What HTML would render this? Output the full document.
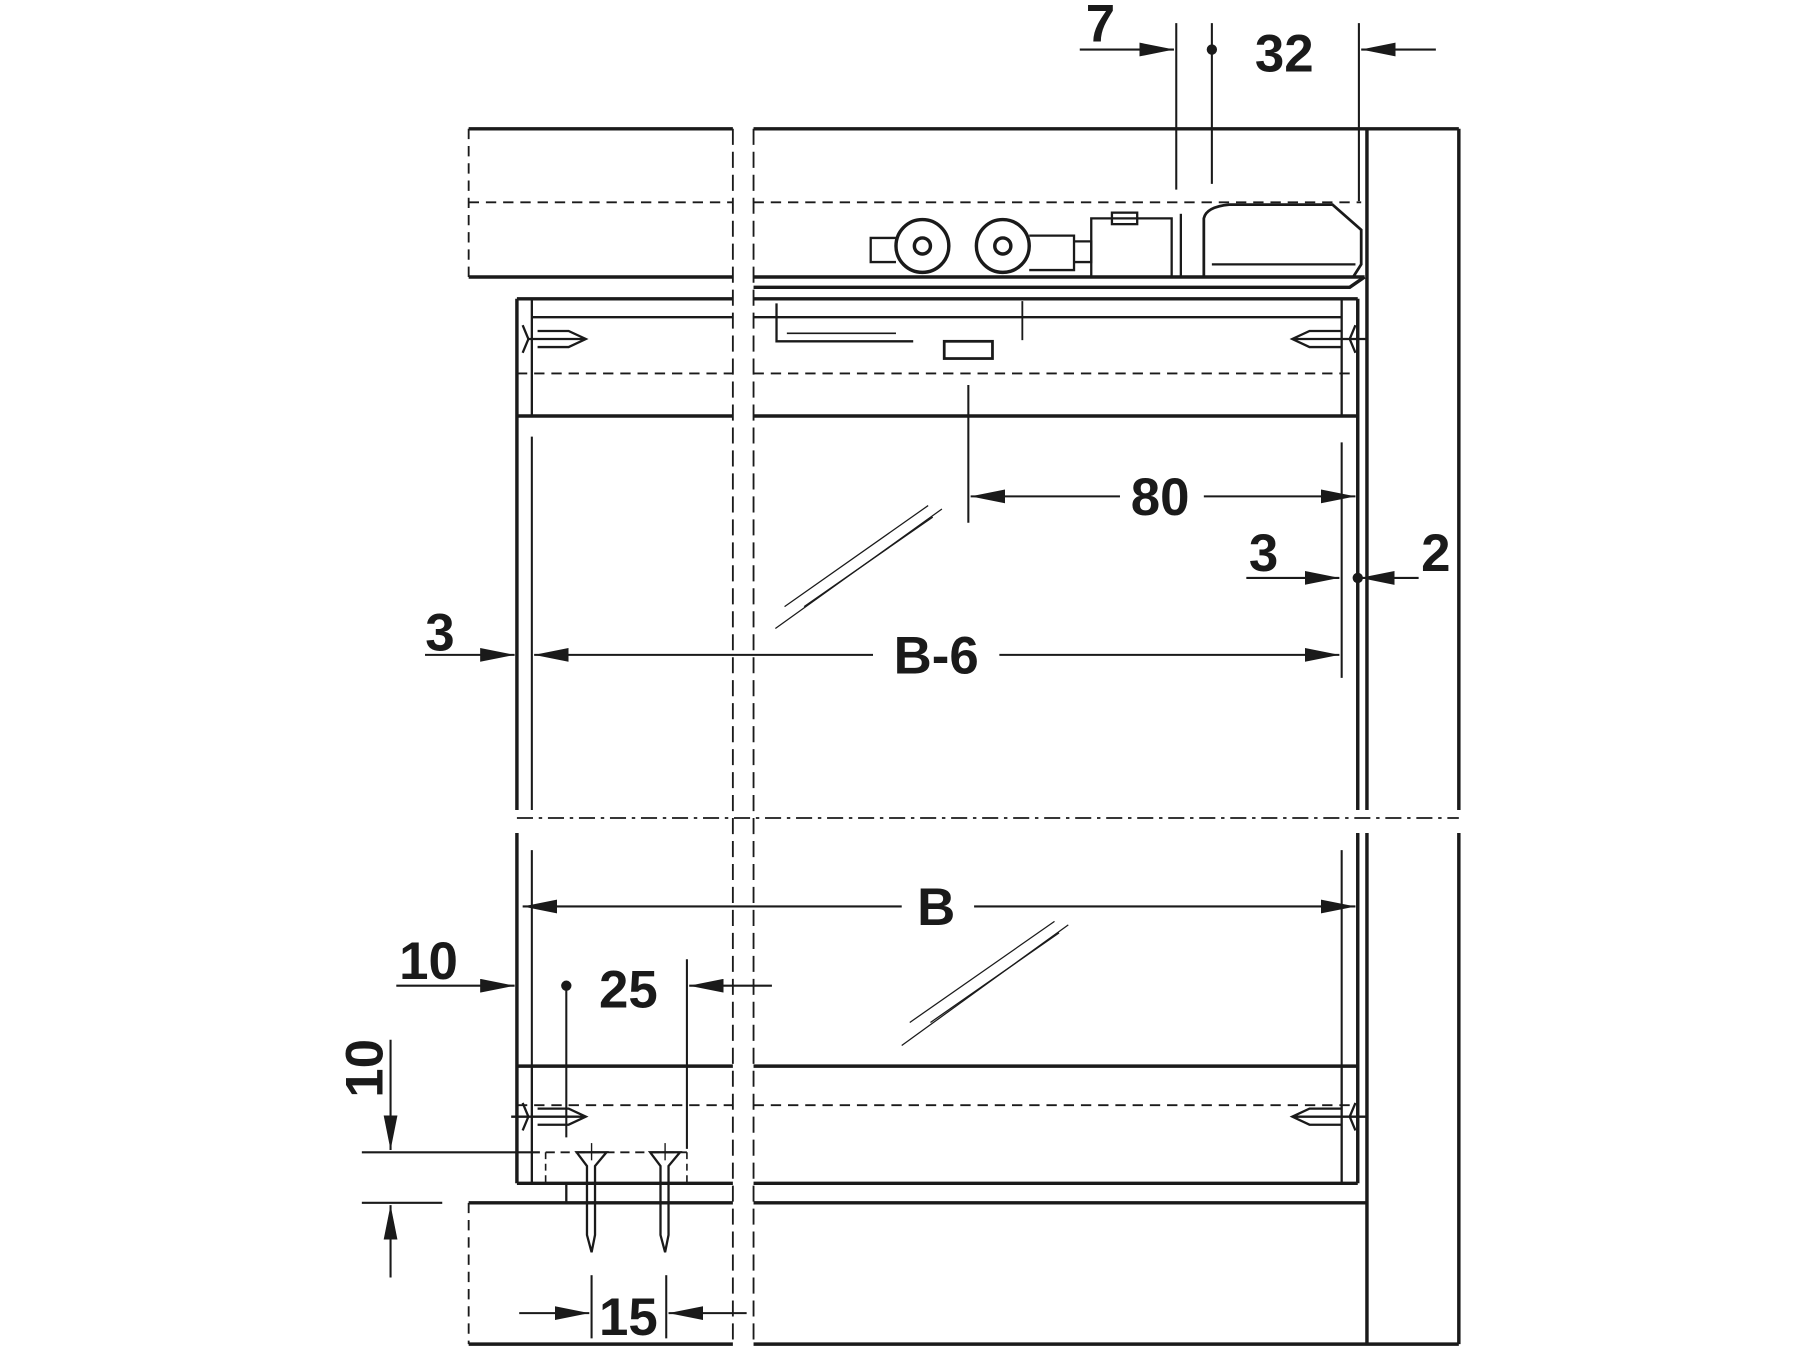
<!DOCTYPE html>
<html><head><style>html,body{margin:0;padding:0;background:#fff}svg{display:block}</style></head><body>
<svg width="1800" height="1350" viewBox="0 0 1567 1175" xmlns="http://www.w3.org/2000/svg" font-family="Liberation Sans, sans-serif" font-weight="bold">
<defs>
<marker id="a" viewBox="0 0 30 12" refX="30" refY="6" markerWidth="30" markerHeight="12" markerUnits="userSpaceOnUse" orient="auto"><path d="M0,0 L30,6 L0,12 z" fill="#1a1a1a"/></marker>
</defs>
<g stroke="#1a1a1a" fill="none" stroke-width="3">
<line x1="408" y1="112" x2="638" y2="112"/>
<line x1="408" y1="241" x2="638" y2="241"/>
<line x1="408" y1="112" x2="408" y2="241" stroke-dasharray="9,6" stroke-width="1.6"/>
<line x1="408" y1="176" x2="638" y2="176" stroke-dasharray="9,6" stroke-width="1.6"/>
<line x1="638" y1="112" x2="638" y2="1170" stroke-dasharray="14,6" stroke-width="1.6"/>
<line x1="656" y1="112" x2="656" y2="1170" stroke-dasharray="14,6" stroke-width="1.6"/>
<line x1="656" y1="112" x2="1270" y2="112"/>
<line x1="656" y1="176" x2="1185" y2="176" stroke-dasharray="9,6" stroke-width="1.6"/>
<line x1="1190" y1="112" x2="1190" y2="705"/>
<line x1="1270" y1="112" x2="1270" y2="705"/>
<line x1="1190" y1="725" x2="1190" y2="1170"/>
<line x1="1270" y1="725" x2="1270" y2="1170"/>
<line x1="656" y1="241" x2="1188" y2="241"/>
<path d="M656,250 L1175,250 L1188,241"/>
<line x1="450" y1="260" x2="638" y2="260"/><line x1="656" y1="260" x2="1182" y2="260"/>
<line x1="463" y1="276" x2="638" y2="276" stroke-width="2"/><line x1="656" y1="276" x2="1168" y2="276" stroke-width="2"/>
<line x1="450" y1="362" x2="638" y2="362"/><line x1="656" y1="362" x2="1182" y2="362"/>
<line x1="450" y1="325" x2="638" y2="325" stroke-dasharray="9,6" stroke-width="1.6"/>
<line x1="656" y1="325" x2="1182" y2="325" stroke-dasharray="9,6" stroke-width="1.6"/>
<line x1="450" y1="260" x2="450" y2="705"/>
<line x1="463" y1="260" x2="463" y2="362" stroke-width="2"/>
<line x1="463" y1="380" x2="463" y2="705" stroke-width="1.8"/>
<line x1="1182" y1="260" x2="1182" y2="705"/>
<line x1="1168" y1="260" x2="1168" y2="362" stroke-width="2"/>
<line x1="1168" y1="385" x2="1168" y2="590" stroke-width="1.8"/>
<line x1="450" y1="712" x2="1270" y2="712" stroke-dasharray="14,5,3,5" stroke-width="1.6"/>
<line x1="450" y1="725" x2="450" y2="1030"/>
<line x1="1182" y1="725" x2="1182" y2="1030"/>
<line x1="463" y1="740" x2="463" y2="928" stroke-width="1.8"/>
<line x1="1168" y1="740" x2="1168" y2="928" stroke-width="1.8"/>
<line x1="450" y1="928" x2="638" y2="928"/><line x1="656" y1="928" x2="1182" y2="928"/>
<line x1="463" y1="928" x2="463" y2="1030" stroke-width="2"/>
<line x1="1168" y1="928" x2="1168" y2="1030" stroke-width="2"/>
<line x1="450" y1="962" x2="638" y2="962" stroke-dasharray="9,6" stroke-width="1.6"/>
<line x1="656" y1="962" x2="1182" y2="962" stroke-dasharray="9,6" stroke-width="1.6"/>
<line x1="450" y1="1030" x2="638" y2="1030"/><line x1="656" y1="1030" x2="1182" y2="1030"/>
<line x1="475" y1="1003" x2="598" y2="1003" stroke-dasharray="8,5" stroke-width="1.6"/>
<line x1="475" y1="1003" x2="475" y2="1030" stroke-dasharray="6,4" stroke-width="1.4"/>
<line x1="598" y1="1003" x2="598" y2="1030" stroke-dasharray="6,4" stroke-width="1.4"/>
<line x1="408" y1="1047" x2="638" y2="1047"/><line x1="656" y1="1047" x2="1190" y2="1047"/>
<line x1="408" y1="1047" x2="408" y2="1170" stroke-dasharray="9,6" stroke-width="1.6"/>
<line x1="408" y1="1170" x2="638" y2="1170"/><line x1="656" y1="1170" x2="1270" y2="1170"/>
<line x1="493" y1="1030" x2="493" y2="1047" stroke-width="2"/>
<circle cx="803" cy="214" r="23"/><circle cx="803" cy="214" r="7"/>
<circle cx="873" cy="214" r="23"/><circle cx="873" cy="214" r="7"/>
<path d="M780,207 L758,207 L758,228 L780,228" stroke-width="2"/>
<path d="M896,205 L935,205 L935,235 L896,235" stroke-width="2"/>
<path d="M935,210 L950,210 L950,228 L935,228" stroke-width="2"/>
<path d="M950,190 L1020,190 L1020,241 L950,241 Z" stroke-width="2"/>
<rect x="968" y="185" width="22" height="10" stroke-width="2"/>
<line x1="1028" y1="186" x2="1028" y2="241" stroke-width="2"/>
<path d="M1048,241 L1048,190 Q1050,180 1070,178 L1160,178 L1185,200 L1185,230 L1178,241" stroke-width="2.4"/>
<line x1="1055" y1="230" x2="1180" y2="230" stroke-width="2"/>
<path d="M676,264 L676,297 L795,297" stroke-width="2"/>
<line x1="685" y1="290" x2="780" y2="290" stroke-width="1.4"/>
<rect x="822" y="297" width="42" height="15" stroke-width="2.4"/>
<line x1="890" y1="262" x2="890" y2="296" stroke-width="1.6"/>
<path d="M455,283 L460,295 L455,307 M460,295 L510,295 M468,288 L495,288 L510,295 L495,302 L468,302" stroke-width="2"/>
<path d="M1180,283 L1175,295 L1180,307 M1190,295 L1125,295 M1168,288 L1140,288 L1125,295 L1140,302 L1168,302" stroke-width="2"/>
<path d="M455,960 L460,972 L455,984 M445,972 L510,972 M468,965 L495,965 L510,972 L495,979 L468,979" stroke-width="2"/>
<path d="M1180,960 L1175,972 L1180,984 M1190,972 L1125,972 M1168,965 L1140,965 L1125,972 L1140,979 L1168,979" stroke-width="2"/>
<path d="M502,1003 L528,1003 L518,1015 L518,1075 L515,1090 L511,1075 L511,1015 Z" stroke-width="2"/>
<path d="M566,1003 L592,1003 L582,1015 L582,1075 L579,1090 L575,1075 L575,1015 Z" stroke-width="2"/>
<line x1="515" y1="995" x2="515" y2="1010" stroke-width="1.2"/><line x1="579" y1="995" x2="579" y2="1010" stroke-width="1.2"/>
<g stroke-width="1.1"><line x1="675" y1="547" x2="820" y2="443"/><line x1="683" y1="528" x2="808" y2="440"/><line x1="700" y1="528" x2="812" y2="450"/>
<line x1="785" y1="910" x2="930" y2="805"/><line x1="792" y1="890" x2="918" y2="802"/><line x1="810" y1="890" x2="922" y2="812"/></g>
</g>
<g stroke="#1a1a1a" stroke-width="1.8" fill="none">
<line x1="1024" y1="20" x2="1024" y2="165"/>
<line x1="1055" y1="20" x2="1055" y2="160"/>
<line x1="1183" y1="20" x2="1183" y2="175"/>
<line x1="940" y1="43" x2="1022" y2="43" marker-end="url(#a)"/>
<line x1="1250" y1="43" x2="1185" y2="43" marker-end="url(#a)"/>
<line x1="843" y1="335" x2="843" y2="455"/>
<line x1="975" y1="432" x2="845" y2="432" marker-end="url(#a)"/>
<line x1="1048" y1="432" x2="1180" y2="432" marker-end="url(#a)"/>
<line x1="1085" y1="503" x2="1166" y2="503" marker-end="url(#a)"/>
<line x1="1235" y1="503" x2="1184" y2="503" marker-end="url(#a)"/>
<line x1="370" y1="570" x2="448" y2="570" marker-end="url(#a)"/>
<line x1="760" y1="570" x2="465" y2="570" marker-end="url(#a)"/>
<line x1="870" y1="570" x2="1166" y2="570" marker-end="url(#a)"/>
<line x1="785" y1="789" x2="455" y2="789" marker-end="url(#a)"/>
<line x1="848" y1="789" x2="1180" y2="789" marker-end="url(#a)"/>
<line x1="345" y1="858" x2="448" y2="858" marker-end="url(#a)"/>
<line x1="493" y1="858" x2="493" y2="990"/>
<line x1="598" y1="835" x2="598" y2="1000"/>
<line x1="672" y1="858" x2="600" y2="858" marker-end="url(#a)"/>
<line x1="340" y1="905" x2="340" y2="1001" marker-end="url(#a)"/>
<line x1="315" y1="1003" x2="470" y2="1003"/>
<line x1="315" y1="1047" x2="385" y2="1047"/>
<line x1="340" y1="1112" x2="340" y2="1049" marker-end="url(#a)"/>
<line x1="452" y1="1143" x2="513" y2="1143" marker-end="url(#a)"/>
<line x1="650" y1="1143" x2="582" y2="1143" marker-end="url(#a)"/>
<line x1="515" y1="1110" x2="515" y2="1165"/>
<line x1="580" y1="1110" x2="580" y2="1165"/>
</g>
<g fill="#1a1a1a"><circle cx="1055" cy="43" r="4.5"/><circle cx="1182" cy="503" r="4.5"/><circle cx="493" cy="858" r="4.5"/></g>
<g fill="#1a1a1a" font-size="46" text-anchor="middle">
<text x="958" y="36">7</text>
<text x="1118" y="62">32</text>
<text x="1010" y="448">80</text>
<text x="1100" y="497">3</text>
<text x="1250" y="497">2</text>
<text x="383" y="566">3</text>
<text x="815" y="586">B-6</text>
<text x="815" y="805">B</text>
<text x="373" y="852">10</text>
<text x="547" y="877">25</text>
<text x="547" y="1162">15</text>
<text transform="translate(333,930) rotate(-90)">10</text>
</g>
</svg>
</body></html>
